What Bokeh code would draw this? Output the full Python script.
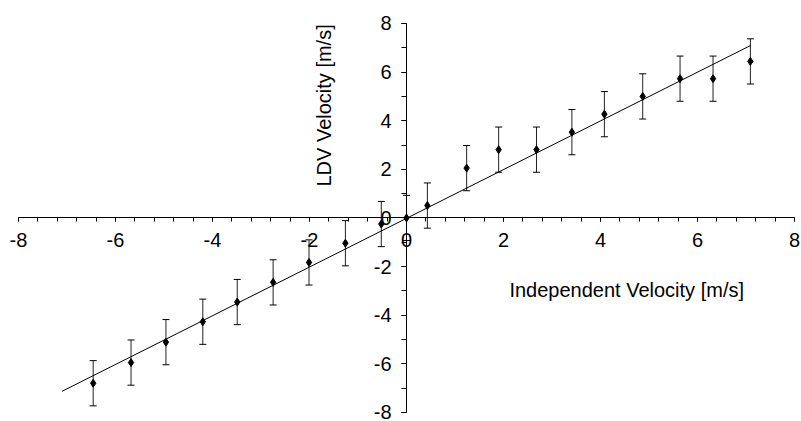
import math
from bokeh.plotting import figure
from bokeh.models import (Range1d, FixedTicker, Whisker, ColumnDataSource,
                          Label, TeeHead)
from bokeh.embed import file_html
from bokeh.resources import INLINE

# ---- data ----
independent_velocity = [-6.46, -5.68, -4.96, -4.20, -3.49, -2.75, -2.01, -1.26, -0.52, 0.0,
                        0.43, 1.24, 1.90, 2.68, 3.41, 4.08, 4.87, 5.64, 6.32, 7.09]
ldv_velocity = [-6.80, -5.95, -5.11, -4.27, -3.46, -2.65, -1.83, -1.04, -0.25, 0.0,
                0.51, 2.05, 2.81, 2.81, 3.53, 4.27, 5.00, 5.73, 5.73, 6.44]
error = [0.93] * len(independent_velocity)
fit_x = [-7.10, 7.10]
fit_y = [-7.13, 7.10]

x_ticks = [-8, -6, -4, -2, 0, 2, 4, 6, 8]
x_tick_labels = ["-8", "-6", "-4", "-2", "0", "2", "4", "6", "8"]
x_minor_ticks = [round(-8 + 0.4 * i, 1) for i in range(41)]
y_ticks = [-8, -6, -4, -2, 0, 2, 4, 6, 8]
y_tick_labels = ["-8", "-6", "-4", "-2", "0", "2", "4", "6", "8"]
y_minor_ticks = list(range(-8, 9))

FONT = "Liberation Sans"
FS = "20px"

lower = [y - e for y, e in zip(ldv_velocity, error)]
upper = [y + e for y, e in zip(ldv_velocity, error)]
src = ColumnDataSource(dict(x=independent_velocity, y=ldv_velocity, lower=lower, upper=upper))

p = figure(width=801, height=421, output_backend="svg", toolbar_location=None,
           x_range=Range1d(-8.371, 8.144), y_range=Range1d(-8.374, 8.946),
           min_border_left=0, min_border_right=0, min_border_top=0, min_border_bottom=0)
p.outline_line_color = None
p.grid.visible = False
p.background_fill_color = "white"
p.border_fill_color = "white"

# axes crossing at origin
p.xaxis.fixed_location = 0
p.yaxis.fixed_location = 0
p.xaxis.bounds = (-8, 8)
p.yaxis.bounds = (-8, 8)
p.xaxis.ticker = FixedTicker(ticks=x_ticks, minor_ticks=x_minor_ticks)
p.yaxis.ticker = FixedTicker(ticks=y_ticks, minor_ticks=y_minor_ticks)
p.xaxis.major_label_overrides = {t: s for t, s in zip(x_ticks, x_tick_labels)}
p.yaxis.major_label_overrides = {t: s for t, s in zip(y_ticks, y_tick_labels)}
for ax in (p.xaxis, p.yaxis):
    ax.axis_line_color = "black"
    ax.axis_line_width = 1
    ax.major_tick_line_color = "black"
    ax.minor_tick_line_color = "black"
    ax.major_tick_in = 0
    ax.minor_tick_in = 0
    ax.major_label_text_font = FONT
    ax.major_label_text_font_size = FS
    ax.major_label_text_color = "black"
p.xaxis.major_tick_out = 4
p.xaxis.minor_tick_out = 4
p.yaxis.major_tick_out = 5
p.yaxis.minor_tick_out = 5
p.xaxis.major_label_standoff = 11
p.yaxis.major_label_standoff = 10

# fit line
p.line(fit_x, fit_y, line_color="black", line_width=1)

# error bars
wh = Whisker(source=src, base="x", lower="lower", upper="upper", dimension="height",
             line_color="#222222", line_width=1,
             upper_head=TeeHead(size=7, line_color="black", line_width=1),
             lower_head=TeeHead(size=7, line_color="black", line_width=1))
p.add_layout(wh)

# points
p.scatter("x", "y", source=src, marker="diamond", size=8, color="black")

# axis titles
p.add_layout(Label(x=4.54, y=-2.98, text="Independent Velocity [m/s]",
                   text_align="center", text_baseline="middle",
                   text_font=FONT, text_font_size=FS, text_color="black"))
p.add_layout(Label(x=-1.71, y=4.63, text="LDV Velocity [m/s]", angle=math.pi / 2,
                   text_align="center", text_baseline="middle",
                   text_font=FONT, text_font_size=FS, text_color="black"))

open("out.html", "w").write(file_html(p, INLINE))
